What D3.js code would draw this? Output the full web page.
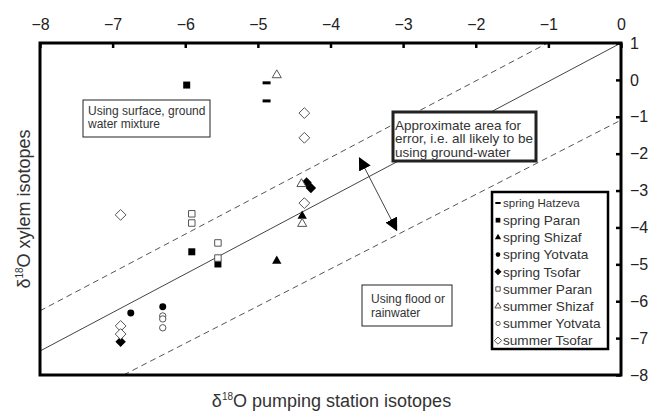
<!DOCTYPE html>
<html>
<head>
<meta charset="utf-8">
<script src="https://cdn.jsdelivr.net/npm/d3@7"></script>
<style>
  body { margin: 0; background: #fff; }
  svg { font-family: 'Liberation Sans', Arial, sans-serif; }
</style>
</head>
<body>
<div id="chart"></div>
<script>
// data
const xTicks = [-8, -7, -6, -5, -4, -3, -2, -1, 0];
const yTicks = [1, 0, -1, -2, -3, -4, -5, -6, -7, -8];

const seriesNames = [
  'spring Hatzeva', 'spring Paran', 'spring Shizaf', 'spring Yotvata', 'spring Tsofar',
  'summer Paran', 'summer Shizaf', 'summer Yotvata', 'summer Tsofar'
];

const springHatzeva = [[-4.88, -0.08], [-4.88, -0.57]];
const springParan = [[-5.98, -0.14], [-5.91, -4.66], [-5.55, -4.99]];
const springShizaf = [[-4.39, -3.69], [-4.74, -4.91]];
const springYotvata = [[-6.75, -6.32], [-6.31, -6.15]];
const springTsofar = [[-4.33, -2.78], [-4.27, -2.93], [-6.89, -7.1]];
const summerParan = [[-5.91, -3.63], [-5.91, -3.88], [-5.55, -4.42], [-5.55, -4.83]];
const summerShizaf = [[-4.74, 0.13], [-4.4, -2.82], [-4.39, -3.9]];
const summerYotvata = [[-6.31, -6.4], [-6.31, -6.48], [-6.31, -6.72]];
const summerTsofar = [[-4.36, -0.9], [-4.36, -1.57], [-4.36, -3.34], [-6.89, -3.66], [-6.89, -6.67], [-6.89, -6.89]];

// reference lines (endpoints in data units)
const solidLine = [[-8, -7.35], [0, 1]];
const upperDash = [[-8, -6.26], [-1.01, 1]];
const lowerDash = [[-6.85, -8], [0, -1.09]];
const arrowEnds = [[-3.6, -2.12], [-3.09, -4.07]];

const W = 649, H = 414;
const pl = 40, pr = 621, pt = 43, pb = 375;

const x = d3.scaleLinear().domain([-8, 0]).range([pl, pr]);
const y = d3.scaleLinear().domain([-8, 1]).range([pb, pt]);

const svg = d3.select('#chart').append('svg')
  .attr('width', W)
  .attr('height', H);

svg.append('defs').append('marker')
  .attr('id', 'head')
  .attr('viewBox', '0 0 10 10')
  .attr('refX', 9)
  .attr('refY', 5)
  .attr('markerWidth', 13)
  .attr('markerHeight', 13)
  .attr('markerUnits', 'userSpaceOnUse')
  .attr('orient', 'auto-start-reverse')
  .append('path')
  .attr('d', 'M0,0L10,5L0,10Z')
  .attr('fill', '#000');

// lines
const line = d3.line().x(d => x(d[0])).y(d => y(d[1]));

svg.append('path')
  .attr('d', line(solidLine))
  .attr('stroke', '#444')
  .attr('stroke-width', 1)
  .attr('fill', 'none');

[upperDash, lowerDash].forEach(l => {
  svg.append('path')
    .attr('d', line(l))
    .attr('stroke', '#555')
    .attr('stroke-width', 1)
    .attr('stroke-dasharray', '6,4')
    .attr('fill', 'none');
});

svg.append('path')
  .attr('d', line(arrowEnds))
  .attr('stroke', '#444')
  .attr('stroke-width', 1)
  .attr('fill', 'none')
  .attr('marker-start', 'url(#head)')
  .attr('marker-end', 'url(#head)');

// marker shapes
const diamond = {
  draw(ctx, size) {
    const r = Math.sqrt(size / 2);
    ctx.moveTo(0, -r);
    ctx.lineTo(r, 0);
    ctx.lineTo(0, r);
    ctx.lineTo(-r, 0);
    ctx.closePath();
  }
};
const dash = {
  draw(ctx, size) {
    const k = Math.sqrt(size / 24);
    ctx.rect(-4 * k, -1.5 * k, 8 * k, 3 * k);
  }
};

const styles = [
  { type: dash, size: 24, filled: true },
  { type: d3.symbolSquare, size: 49, filled: true },
  { type: d3.symbolTriangle, size: 38, filled: true },
  { type: d3.symbolCircle, size: 38, filled: true },
  { type: diamond, size: 54, filled: true },
  { type: d3.symbolSquare, size: 42, filled: false },
  { type: d3.symbolTriangle, size: 36, filled: false },
  { type: d3.symbolCircle, size: 32, filled: false },
  { type: diamond, size: 58, filled: false }
];

const allSeries = [springHatzeva, springParan, springShizaf, springYotvata, springTsofar,
  summerParan, summerShizaf, summerYotvata, summerTsofar];

function drawSymbol(sel, st) {
  sel.attr('d', d3.symbol().type(st.type).size(st.size)())
    .attr('fill', st.filled ? '#000' : '#fff')
    .attr('stroke', st.filled ? 'none' : '#555')
    .attr('stroke-width', 1);
}

allSeries.forEach((data, i) => {
  svg.append('g').selectAll('path')
    .data(data)
    .enter()
    .append('path')
    .attr('transform', d => `translate(${x(d[0])},${y(d[1])})`)
    .call(drawSymbol, styles[i]);
});

// text boxes
function textBox(bx, by, bw, bh, lines, opts) {
  svg.append('rect')
    .attr('x', bx).attr('y', by)
    .attr('width', bw).attr('height', bh)
    .attr('fill', '#fff')
    .attr('stroke', '#222')
    .attr('stroke-width', opts.border);
  lines.forEach((t, i) => {
    svg.append('text')
      .attr('x', bx + opts.pad)
      .attr('y', by + opts.first + i * opts.lh)
      .attr('font-size', opts.fs)
      .attr('fill', '#333')
      .text(t);
  });
}

textBox(83, 100, 127, 37, ['Using surface, ground', 'water mixture'], { border: 1, pad: 5, first: 15, lh: 13, fs: 12 });
textBox(393, 112, 143, 49, ['Approximate area for', 'error, i.e. all likely to be', 'using ground-water'], { border: 3, pad: 2, first: 17.5, lh: 13.5, fs: 13.5 });
textBox(362, 285, 90, 41, ['Using flood or', 'rainwater'], { border: 1, pad: 9, first: 18, lh: 14, fs: 12 });

// legend
const legX = 492, legY = 192;
svg.append('rect')
  .attr('x', legX).attr('y', legY)
  .attr('width', 116).attr('height', 157)
  .attr('fill', '#fff')
  .attr('stroke', '#000')
  .attr('stroke-width', 2.5);

seriesNames.forEach((name, i) => {
  const cy = legY + 11 + i * 17.2;
  const st = Object.assign({}, styles[i]);
  st.size = st.size * 0.45;
  svg.append('path')
    .attr('transform', `translate(${legX + 6},${cy})`)
    .call(drawSymbol, st);
  svg.append('text')
    .attr('x', legX + 11)
    .attr('y', cy)
    .attr('dy', '0.35em')
    .attr('font-size', i === 0 ? 11.5 : 13.6)
    .attr('fill', '#333')
    .text(name);
});

// axes (ticks point inward)
const xAxis = d3.axisTop(x).tickValues(xTicks).tickSize(-5).tickPadding(13).tickFormat(d3.format('d'));
const yAxis = d3.axisRight(y).tickValues(yTicks).tickSize(-5).tickPadding(9).tickFormat(d3.format('d'));

const gx = svg.append('g').attr('transform', `translate(0,${pt})`).call(xAxis);
const gy = svg.append('g').attr('transform', `translate(${pr},0)`).call(yAxis);

[gx, gy].forEach(g => {
  g.select('.domain').remove();
  g.selectAll('.tick line').attr('stroke', '#000').attr('stroke-width', 2.5);
  g.selectAll('.tick text')
    .attr('font-size', 16)
    .attr('fill', '#222')
    .attr('font-family', "'Liberation Sans', Arial, sans-serif");
});
gx.selectAll('.tick text').attr('dy', '0');

// frame
svg.append('rect')
  .attr('x', pl).attr('y', pt)
  .attr('width', pr - pl).attr('height', pb - pt)
  .attr('fill', 'none')
  .attr('stroke', '#000')
  .attr('stroke-width', 3);

// axis titles
const xt = svg.append('text')
  .attr('x', (pl + pr) / 2 + 1)
  .attr('y', 407)
  .attr('text-anchor', 'middle')
  .attr('font-size', 18)
  .attr('fill', '#333');
xt.append('tspan').text('δ');
xt.append('tspan').attr('font-size', 10).attr('dy', -7).text('18');
xt.append('tspan').attr('dy', 7).text('O pumping station isotopes');

const yt = svg.append('text')
  .attr('transform', `translate(30,${(pt + pb) / 2}) rotate(-90)`)
  .attr('text-anchor', 'middle')
  .attr('font-size', 18)
  .attr('fill', '#333');
yt.append('tspan').text('δ');
yt.append('tspan').attr('font-size', 10).attr('dy', -7).text('18');
yt.append('tspan').attr('dy', 7).text('O xylem isotopes');
</script>
</body>
</html>
